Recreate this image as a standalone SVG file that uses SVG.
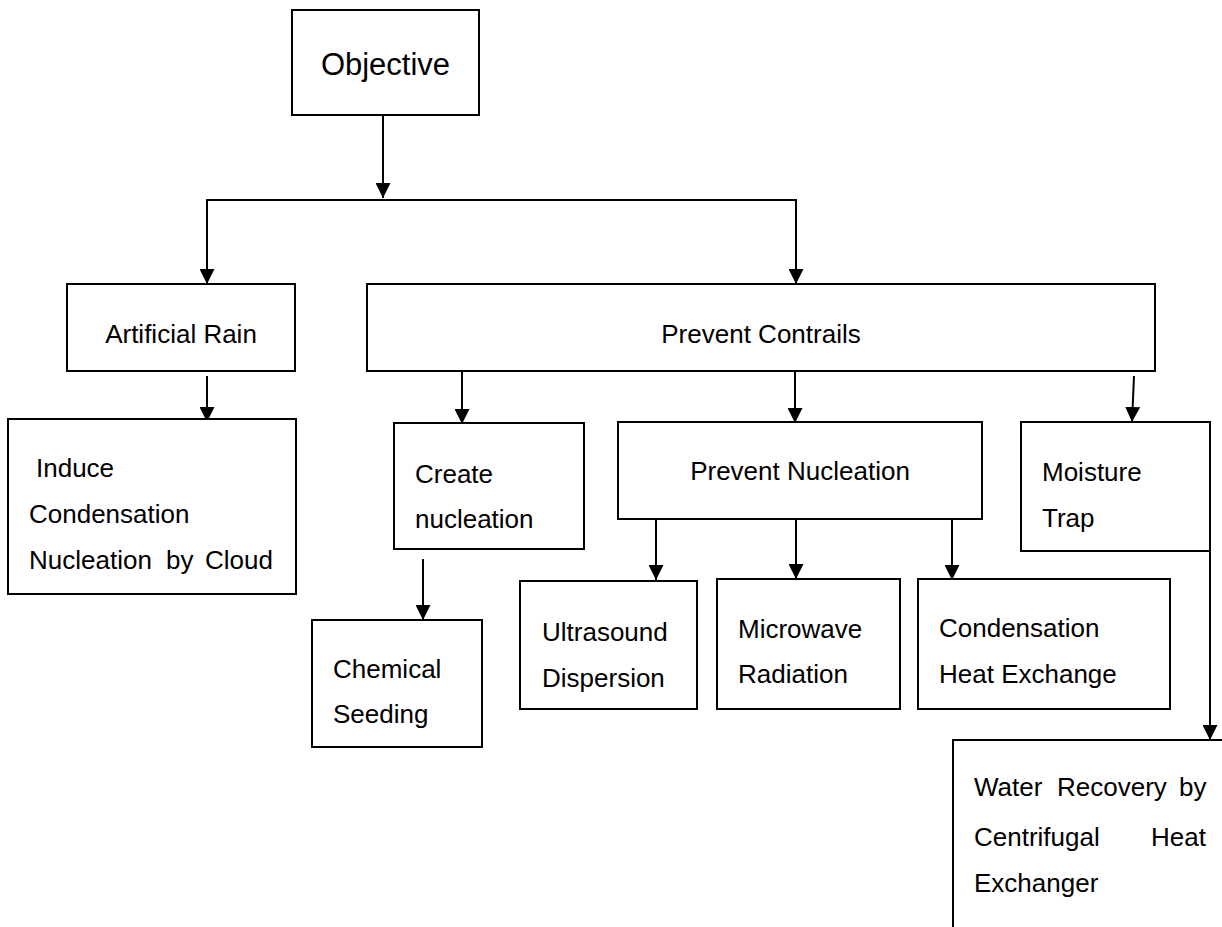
<svg xmlns="http://www.w3.org/2000/svg" width="1222" height="927" viewBox="0 0 1222 927">
<defs>
<style>
.box{fill:#fff;stroke:#000;stroke-width:2}
.t{font-family:"Liberation Sans",Arial,sans-serif;font-size:26px;fill:#000}
.c{stroke:#000;stroke-width:2;fill:none}
</style>
<marker id="ah" viewBox="0 0 15 15" refX="15" refY="7.5" markerWidth="15" markerHeight="15" markerUnits="userSpaceOnUse" orient="auto">
<path d="M0,0 L15,7.5 L0,15 Z" fill="#000"/>
</marker>
</defs>
<rect width="1222" height="927" fill="#fff"/>
<g id="connectors">
<line class="c" x1="383" y1="115" x2="383" y2="198" marker-end="url(#ah)"/>
<polyline class="c" points="207,284 207,200 796,200 796,284" />
<line class="c" x1="207" y1="200" x2="207" y2="284" marker-end="url(#ah)"/>
<line class="c" x1="796" y1="200" x2="796" y2="284" marker-end="url(#ah)"/>
<line class="c" x1="207" y1="376" x2="207" y2="422" marker-end="url(#ah)"/>
<line class="c" x1="462" y1="371" x2="462" y2="424" marker-end="url(#ah)"/>
<line class="c" x1="795" y1="371" x2="795" y2="423" marker-end="url(#ah)"/>
<line class="c" x1="1134" y1="376" x2="1132" y2="422" marker-end="url(#ah)"/>
<line class="c" x1="423" y1="559" x2="423" y2="620" marker-end="url(#ah)"/>
<line class="c" x1="656" y1="519" x2="656" y2="580" marker-end="url(#ah)"/>
<line class="c" x1="796" y1="519" x2="796" y2="579" marker-end="url(#ah)"/>
<line class="c" x1="952" y1="519" x2="952" y2="580" marker-end="url(#ah)"/>
<line class="c" x1="1210" y1="551" x2="1210" y2="740" marker-end="url(#ah)"/>
</g>
<g id="objective">
<rect class="box" x="292" y="10" width="187" height="105"/>
<text class="t" x="385.5" y="75" text-anchor="middle" style="font-size:31px">Objective</text>
</g>
<g id="artificial-rain">
<rect class="box" x="67" y="284" width="228" height="87"/>
<text class="t" x="181" y="343" text-anchor="middle">Artificial Rain</text>
</g>
<g id="prevent-contrails">
<rect class="box" x="367" y="284" width="788" height="87"/>
<text class="t" x="761" y="343" text-anchor="middle">Prevent Contrails</text>
</g>
<g id="induce">
<rect class="box" x="8" y="419" width="288" height="175"/>
<text class="t" x="36" y="477">Induce</text>
<text class="t" x="29" y="523">Condensation</text>
<text class="t" y="569"><tspan x="29">Nucleation</tspan><tspan x="166">by</tspan><tspan x="205">Cloud</tspan></text>
</g>
<g id="create-nucleation">
<rect class="box" x="394" y="423" width="190" height="126"/>
<text class="t" x="415" y="483">Create</text>
<text class="t" x="415" y="528">nucleation</text>
</g>
<g id="prevent-nucleation">
<rect class="box" x="618" y="422" width="364" height="97"/>
<text class="t" x="800" y="480" text-anchor="middle">Prevent Nucleation</text>
</g>
<g id="moisture-trap">
<rect class="box" x="1021" y="422" width="189" height="129"/>
<text class="t" x="1042" y="481">Moisture</text>
<text class="t" x="1042" y="527">Trap</text>
</g>
<g id="chemical-seeding">
<rect class="box" x="312" y="620" width="170" height="127"/>
<text class="t" x="333" y="678">Chemical</text>
<text class="t" x="333" y="723">Seeding</text>
</g>
<g id="ultrasound">
<rect class="box" x="520" y="581" width="177" height="128"/>
<text class="t" x="542" y="641">Ultrasound</text>
<text class="t" x="542" y="687">Dispersion</text>
</g>
<g id="microwave">
<rect class="box" x="717" y="579" width="183" height="130"/>
<text class="t" x="738" y="638">Microwave</text>
<text class="t" x="738" y="683">Radiation</text>
</g>
<g id="condensation-heat">
<rect class="box" x="918" y="579" width="252" height="130"/>
<text class="t" x="939" y="637">Condensation</text>
<text class="t" x="939" y="683">Heat Exchange</text>
</g>
<g id="water-recovery">
<rect class="box" x="953" y="740" width="290" height="210"/>
<text class="t" y="796"><tspan x="974">Water</tspan><tspan x="1057">Recovery</tspan><tspan x="1179">by</tspan></text>
<text class="t" y="846"><tspan x="974">Centrifugal</tspan><tspan x="1206" text-anchor="end">Heat</tspan></text>
<text class="t" x="974" y="892">Exchanger</text>
</g>
</svg>
